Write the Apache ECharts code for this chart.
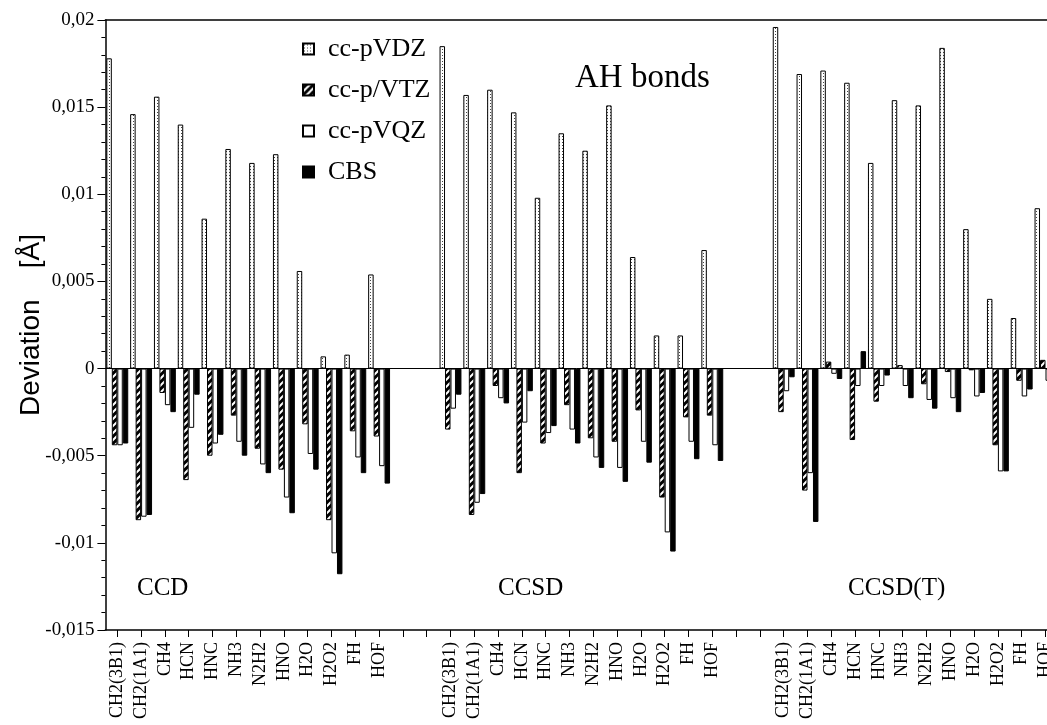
<!DOCTYPE html>
<html>
<head>
<meta charset="utf-8">
<script src="https://cdn.jsdelivr.net/npm/echarts@6/dist/echarts.min.js"></script>
<style>
html,body{margin:0;padding:0;background:#fff;}
#chart{width:1047px;height:725px;}
</style>
</head>
<body>
<div id="chart"></div>
<script>
// ---- data ----
const molecules = ['CH2(3B1)','CH2(1A1)','CH4','HCN','HNC','NH3','N2H2','HNO','H2O','H2O2','FH','HOF'];
const methods = ['CCD','CCSD','CCSD(T)'];
const seriesNames = ['cc-pVDZ','cc-p/VTZ','cc-pVQZ','CBS'];
const yTicks = [-0.015, 0.02, 0.005];

const ccd_vdz = [0.0178, 0.0146, 0.0156, 0.0140, 0.0086, 0.0126, 0.0118, 0.0123, 0.0056, 0.0007, 0.0008, 0.0054];
const ccd_vtz = [-0.0044, -0.0087, -0.0014, -0.0064, -0.0050, -0.0027, -0.0046, -0.0058, -0.0032, -0.0087, -0.0036, -0.0039];
const ccd_vqz = [-0.0044, -0.0085, -0.0021, -0.0034, -0.0043, -0.0042, -0.0055, -0.0074, -0.0049, -0.0106, -0.0051, -0.0056];
const ccd_cbs = [-0.0043, -0.0084, -0.0025, -0.0015, -0.0038, -0.0050, -0.0060, -0.0083, -0.0058, -0.0118, -0.0060, -0.0066];

const ccsd_vdz = [0.0185, 0.0157, 0.0160, 0.0147, 0.0098, 0.0135, 0.0125, 0.0151, 0.0064, 0.0019, 0.0019, 0.0068];
const ccsd_vtz = [-0.0035, -0.0084, -0.0010, -0.0060, -0.0043, -0.0021, -0.0040, -0.0042, -0.0024, -0.0074, -0.0028, -0.0027];
const ccsd_vqz = [-0.0023, -0.0077, -0.0017, -0.0031, -0.0037, -0.0035, -0.0051, -0.0057, -0.0042, -0.0094, -0.0042, -0.0044];
const ccsd_cbs = [-0.0015, -0.0072, -0.0020, -0.0013, -0.0033, -0.0043, -0.0057, -0.0065, -0.0054, -0.0105, -0.0052, -0.0053];

const ccsdt_vdz = [0.0196, 0.0169, 0.0171, 0.0164, 0.0118, 0.0154, 0.0151, 0.0184, 0.0080, 0.0040, 0.0029, 0.0092];
const ccsdt_vtz = [-0.0025, -0.0070, 0.0004, -0.0041, -0.0019, 0.0002, -0.0009, -0.0002, -0.0001, -0.0044, -0.0007, 0.0005];
const ccsdt_vqz = [-0.0013, -0.0060, -0.0003, -0.0010, -0.0010, -0.0010, -0.0018, -0.0017, -0.0016, -0.0059, -0.0016, -0.0007];
const ccsdt_cbs = [-0.0005, -0.0088, -0.0006, 0.0010, -0.0004, -0.0017, -0.0023, -0.0025, -0.0014, -0.0059, -0.0012, null];

// ---- build category list: 12 + 2 gaps + 12 + 2 gaps + 12 ----
const categories = [];
methods.forEach((m, gi) => {
  molecules.forEach(mol => categories.push(m + '|' + mol));
  if (gi < methods.length - 1) { categories.push('gap' + gi + 'a|'); categories.push('gap' + gi + 'b|'); }
});
function joinGroups(a, b, c) { return a.concat([null, null], b, [null, null], c); }
const allData = [
  joinGroups(ccd_vdz, ccsd_vdz, ccsdt_vdz),
  joinGroups(ccd_vtz, ccsd_vtz, ccsdt_vtz),
  joinGroups(ccd_vqz, ccsd_vqz, ccsdt_vqz),
  joinGroups(ccd_cbs, ccsd_cbs, ccsdt_cbs)
];

// ---- patterns ----
function dotPattern() {
  const c = document.createElement('canvas'); c.width = 3; c.height = 3;
  const g = c.getContext('2d');
  g.fillStyle = '#fff'; g.fillRect(0, 0, 3, 3);
  g.fillStyle = '#444'; g.fillRect(1, 1, 1, 1);
  return c;
}
function hatchPattern() {
  const s = 7;
  const c = document.createElement('canvas'); c.width = s; c.height = s;
  const g = c.getContext('2d');
  g.fillStyle = '#000'; g.fillRect(0, 0, s, s);
  g.strokeStyle = '#fff'; g.lineWidth = 2;
  g.beginPath();
  g.moveTo(0, s); g.lineTo(s, 0);
  g.moveTo(-1, 1); g.lineTo(1, -1);
  g.moveTo(s - 1, s + 1); g.lineTo(s + 1, s - 1);
  g.stroke();
  return c;
}
const fills = [
  { image: dotPattern(), repeat: 'repeat' },
  { image: hatchPattern(), repeat: 'repeat' },
  '#ffffff',
  '#000000'
];

const SERIF = 'Liberation Serif';
const SANS = 'Liberation Sans';

const chart = echarts.init(document.getElementById('chart'), null, { renderer: 'canvas' });
chart.setOption({
  animation: false,
  backgroundColor: '#fff',
  grid: { left: 105.4, width: 952, top: 20, bottom: 95, containLabel: false, outerBoundsMode: 'none' },
  legend: {
    orient: 'vertical', left: 297, top: 29,
    itemWidth: 11, itemHeight: 11, itemGap: 11,
    icon: 'rect',
    data: seriesNames,
    textStyle: { fontFamily: SERIF, fontSize: 26, color: '#000', lineHeight: 30, padding: [0, 0, 0, 9] }
  },
  xAxis: [
    {
      type: 'category', data: categories, position: 'bottom',
      axisLine: { show: true, onZero: false, lineStyle: { color: '#000', width: 1.5 } },
      axisTick: { show: true, alignWithLabel: true, interval: 0, length: 7, inside: false, lineStyle: { color: '#000', width: 1 } },
      axisLabel: {
        interval: 0, rotate: 90, margin: 12, color: '#000',
        fontFamily: SERIF, fontSize: 18,
        formatter: v => v.split('|')[1] || ''
      },
      splitLine: { show: false }
    },
    {
      type: 'value', position: 'top', min: 0, max: 1,
      axisLine: { show: true, onZero: false, lineStyle: { color: '#000', width: 1.5 } },
      axisTick: { show: false }, axisLabel: { show: false }, splitLine: { show: false }
    },
    {
      type: 'value', position: 'bottom', min: 0, max: 1,
      axisLine: { show: true, onZero: true, lineStyle: { color: '#000', width: 1 } },
      axisTick: { show: false }, axisLabel: { show: false }, splitLine: { show: false }
    }
  ],
  yAxis: {
    type: 'value', min: yTicks[0], max: yTicks[1], interval: yTicks[2],
    name: 'Deviation    [Å]', nameLocation: 'middle', nameGap: 60, nameMoveOverlap: false,
    nameTextStyle: { fontFamily: SANS, fontSize: 28, color: '#000' },
    axisLine: { show: true, lineStyle: { color: '#000', width: 1.5 } },
    axisTick: { show: true, length: 8, lineStyle: { color: '#000', width: 1 } },
    minorTick: { show: true, splitNumber: 5, length: 4, lineStyle: { color: '#000', width: 1 } },
    axisLabel: {
      color: '#000', fontFamily: SERIF, fontSize: 19, margin: 11,
      formatter: v => String(+v.toFixed(4)).replace('.', ',')
    },
    splitLine: { show: false }
  },
  graphic: [
    { type: 'text', left: 575, top: 62, style: { text: 'AH bonds', font: '33px "' + SERIF + '"', fill: '#000' } },
    { type: 'text', left: 137, top: 576, style: { text: 'CCD', font: '25px "' + SERIF + '"', fill: '#000' } },
    { type: 'text', left: 498, top: 576, style: { text: 'CCSD', font: '25px "' + SERIF + '"', fill: '#000' } },
    { type: 'text', left: 848, top: 576, style: { text: 'CCSD(T)', font: '25px "' + SERIF + '"', fill: '#000' } }
  ],
  series: seriesNames.map((name, i) => ({
    name: name, type: 'bar', xAxisIndex: 0, yAxisIndex: 0,
    data: allData[i],
    barGap: '0%', barCategoryGap: '8%',
    itemStyle: { color: fills[i], borderColor: '#000', borderWidth: 1 },
    emphasis: { disabled: true }
  }))
});
</script>
</body>
</html>
